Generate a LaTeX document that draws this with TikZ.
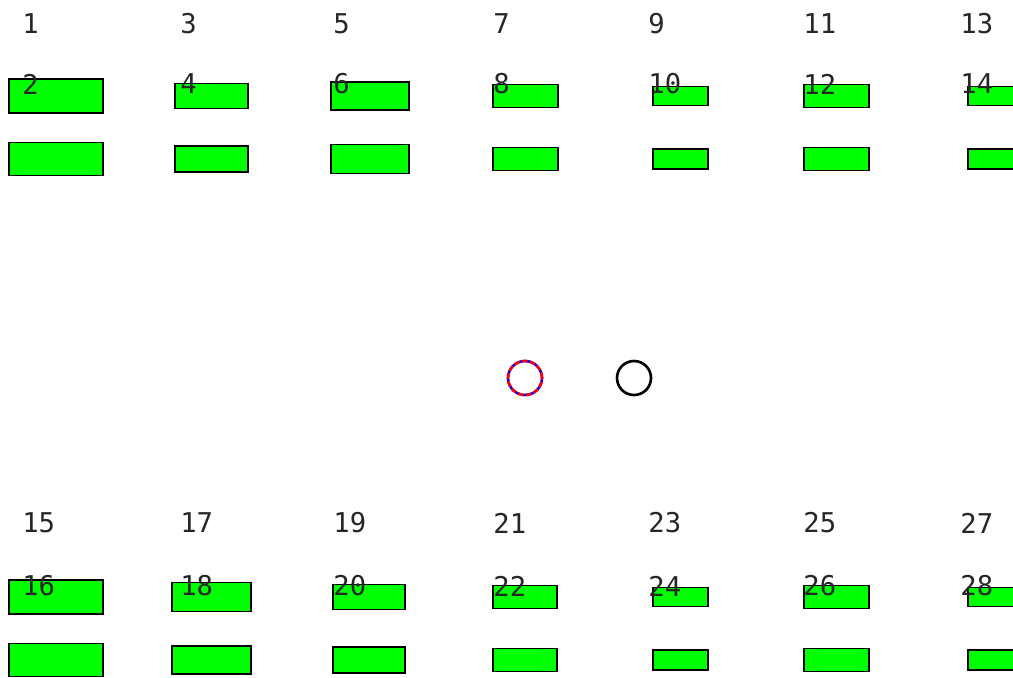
\documentclass[tikz,border=0pt]{standalone}
\usepackage{fontspec}
\newfontfamily\tagfont{DejaVu Sans Mono}

\tikzset{
  slot/.style={draw=black, fill=green, line width=1pt, inner sep=0pt},
  tag/.style={anchor=west, inner sep=0pt, text=black!85,
              font=\tagfont\fontsize{15.5}{16}\selectfont},
  ring/.style={circle, minimum size=0.68cm, inner sep=0pt, line width=1.5pt},
}

\begin{document}
\begin{tikzpicture}[x=0.02cm, y=-0.02cm]

\useasboundingbox (0,0) rectangle (1013,677);
\clip (0,0) rectangle (1013,677);

% ==== TOP BLOCK ====
\foreach \c/\lx/\cx/\w/\hA/\hB in {1/22/56/94/34/33, 2/180/211.5/73/25/26, 3/333/370/78/28/29,
                                    4/493/525.5/65/23/23, 5/648/680.5/55/19/20, 6/803/836.5/65/23/23,
                                    7/960/995.5/55/19/20}{
    \pgfmathtruncatemacro\up{2*\c-1}
    \pgfmathtruncatemacro\dn{2*\c}
    \node[slot, minimum width=\w*0.02cm, minimum height=\hA*0.02cm] (slot\dn) at (\cx,96) {};
    \node[slot, minimum width=\w*0.02cm, minimum height=\hB*0.02cm] (slot\dn low) at (\cx,159) {};
    \node[tag] (lab\up) at (\lx,24) {\up};
    \node[tag] (lab\dn) at (\lx,84) {\dn};
}

% ==== BOTTOM BLOCK ====
\foreach \c/\lx/\cx/\w/\hA/\hB in {1/22/56/94/34/33, 2/180/211.5/79/29/28, 3/333/369/72/25/26,
                                    4/493/525/64/23/23, 5/648/680.5/55/19/20, 6/803/836.5/65/23/23,
                                    7/960/995.5/55/19/20}{
    \pgfmathtruncatemacro\up{13+2*\c}
    \pgfmathtruncatemacro\dn{14+2*\c}
    \node[slot, minimum width=\w*0.02cm, minimum height=\hA*0.02cm] (slot\dn) at (\cx,597) {};
    \node[slot, minimum width=\w*0.02cm, minimum height=\hB*0.02cm] (slot\dn low) at (\cx,660) {};
    \node[tag] (lab\up) at (\lx,523) {\up};
    \node[tag] (lab\dn) at (\lx,586) {\dn};
}

% ==== RINGS ====
\node[ring, draw=blue] (ringA) at (525,378) {};
\node[ring, draw=red, dash pattern=on 3.2pt off 1.4pt] (ringAtop) at (ringA) {};
\node[ring, draw=black] (ringB) at (634,378) {};

\end{tikzpicture}
\end{document}
